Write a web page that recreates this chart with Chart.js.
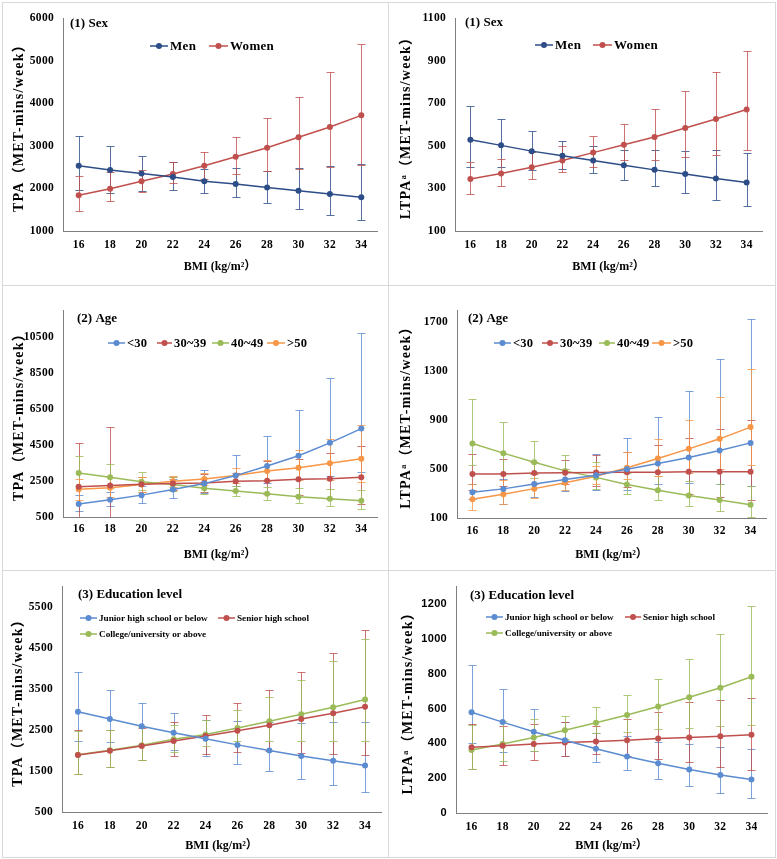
<!DOCTYPE html>
<html><head><meta charset="utf-8">
<script src="https://cdn.jsdelivr.net/npm/chart.js@4.4.0/dist/chart.umd.min.js"></script>
<style>
html,body{margin:0;padding:0;background:#fff}
body{width:777px;height:859px;position:relative;overflow:hidden}
.cell{position:absolute;border:1px solid #d9d9d9;box-sizing:border-box}
canvas{position:absolute}
</style></head><body>
<script>
// ---------- categories ----------
const bmi = ['16','18','20','22','24','26','28','30','32','34'];

// ---------- (1) Sex : TPA ----------
const tpaSexTicks = [1000,2000,3000,4000,5000,6000];
const tpaMen     = [2530,2430,2350,2265,2170,2105,2020,1945,1870,1795];
const tpaMenLo   = [1970,1900,1950,1955,1895,1790,1665,1505,1370,1250];
const tpaMenHi   = [3230,2995,2760,2610,2460,2470,2400,2490,2530,2570];
const tpaWomen   = [1840,1990,2170,2340,2530,2745,2955,3200,3440,3715];
const tpaWomenLo = [1480,1700,1905,2120,2220,2335,2420,2445,2505,2550];
const tpaWomenHi = [2300,2375,2430,2610,2845,3205,3645,4140,4735,5400];

// ---------- (1) Sex : LTPA ----------
const ltpaSexTicks = [100,300,500,700,900,1100];
const ltpaMen     = [528,502,475,453,431,409,387,368,347,328];
const ltpaMenLo   = [400,400,385,390,372,340,312,278,245,218];
const ltpaMenHi   = [689,624,571,524,497,480,478,475,478,465];
const ltpaWomen   = [344,370,399,431,468,505,541,584,626,670];
const ltpaWomenLo = [276,312,344,379,400,435,434,446,459,481];
const ltpaWomenHi = [423,436,470,498,544,604,675,755,846,947];

// ---------- (2) Age : TPA ----------
const tpaAgeTicks = [500,2500,4500,6500,8500,10500];
const tpaU30   = [1220,1455,1715,2025,2355,2800,3330,3900,4620,5410];
const tpaU30Lo = [850,1100,1270,1550,1820,2200,2400,2600,2800,3000];
const tpaU30Hi = [1700,1900,2200,2600,3130,3940,4985,6420,8220,10700];
const tpa3039   = [2175,2245,2320,2355,2395,2485,2520,2595,2630,2705];
const tpa3039Lo = [500,500,1900,2000,1900,1950,1800,1700,1500,1200];
const tpa3039Hi = [4620,5500,2750,2750,2900,2950,3600,3700,4080,4450];
const tpa4049   = [2945,2705,2465,2300,2100,1950,1785,1620,1510,1400];
const tpa4049Lo = [2200,2100,2000,1950,1800,1640,1455,1270,1125,940];
const tpa4049Hi = [3900,3440,2980,2700,2450,2250,2150,2100,2050,2000];
const tpaO50   = [2045,2120,2300,2485,2615,2800,3055,3240,3480,3735];
const tpaO50Lo = [1450,1600,1900,2150,2300,2400,2500,2550,2550,2450];
const tpaO50Hi = [2600,2700,2750,2800,2950,3250,3660,4210,4860,5630];

// ---------- (2) Age : LTPA ----------
const ltpaAgeTicks = [100,500,900,1300,1700];
const ltpaU30   = [310,338,378,414,449,499,545,594,652,714];
const ltpaU30Lo = [253,217,272,321,332,327,380,390,380,360];
const ltpaU30Hi = [380,420,460,500,624,755,922,1138,1400,1727];
const ltpa3039   = [460,460,468,469,471,474,474,477,477,477];
const ltpa3039Lo = [330,360,380,380,360,350,330,300,270,250];
const ltpa3039Hi = [620,580,560,572,613,640,698,755,829,900];
const ltpa4049   = [709,630,556,485,432,373,327,283,247,209];
const ltpa4049Lo = [530,470,430,400,340,300,250,200,160,112];
const ltpa4049Hi = [1069,881,733,611,560,470,440,400,380,360];
const ltpaO50   = [253,294,340,389,441,510,586,665,747,843];
const ltpaO50Lo = [168,217,266,327,376,420,440,470,500,530];
const ltpaO50Hi = [381,414,463,504,523,640,742,900,1086,1315];

// ---------- (3) Education : TPA ----------
const tpaEduTicks = [500,1500,2500,3500,4500,5500];
const tpaJun   = [2950,2770,2595,2435,2290,2140,2005,1870,1755,1635];
const tpaJunLo = [2235,2210,2150,2010,1875,1675,1490,1315,1155,995];
const tpaJunHi = [3910,3485,3155,2915,2755,2730,2700,2680,2690,2710];
const tpaSen   = [1890,1995,2115,2235,2355,2485,2620,2770,2915,3070];
const tpaSenLo = [1435,1595,1780,1860,1915,1955,1995,1950,1915,1890];
const tpaSenHi = [2500,2515,2550,2690,2875,3155,3490,3915,4395,4950];
const tpaCol   = [1900,2010,2130,2275,2395,2550,2715,2890,3060,3250];
const tpaColLo = [1435,1595,1780,1955,2115,2235,2235,2235,2235,2235];
const tpaColHi = [2480,2500,2570,2620,2750,2995,3315,3715,4195,4730];

// ---------- (3) Education : LTPA ----------
const ltpaEduTicks = [0,200,400,600,800,1000,1200];
const ltpaJun   = [578,522,467,418,369,324,286,250,218,192];
const ltpaJunLo = [400,350,355,330,290,245,198,154,113,85];
const ltpaJunHi = [847,710,599,520,462,440,410,395,380,367];
const ltpaSen   = [377,386,396,405,411,418,428,433,441,450];
const ltpaSenLo = [250,275,305,325,337,330,311,292,267,249];
const ltpaSenHi = [510,500,510,520,500,540,580,640,650,660];
const ltpaCol   = [362,396,433,475,518,563,612,665,719,782];
const ltpaColLo = [250,297,358,424,461,467,480,490,499,505];
const ltpaColHi = [508,530,537,559,608,678,772,887,1026,1186];

// ---------- labels ----------
const sexNames = ['Men','Women'];
const ageNames = ['<30','30~39','40~49','>50'];
const eduNames = ['Junior high school or below','Senior high school','College/university or above'];
const tpaTitle = 'TPA（MET-mins/week）';
const ltpaTitle = 'LTPAᵃ（MET-mins/week）';
const bmiTitle = 'BMI (kg/m²）';

// ---------- styling ----------
const SERIF = '"Liberation Serif","DejaVu Serif","Noto Sans CJK SC",serif';
const SANS = '"Liberation Sans","DejaVu Sans",sans-serif';
const NAVY='#2C4D87', RED='#C0504D', BLUE='#5B8BD0', GREEN='#9BBB59', ORANGE='#F79646';

const spacing = {
  id:'spacing',
  beforeDraw(chart){ chart.ctx.letterSpacing = '0.3px'; }
};

const errorBars = {
  id:'errorBars',
  beforeDatasetsDraw(chart){
    const {ctx, chartArea:a} = chart;
    const xs = chart.scales.x, ys = chart.scales.y;
    ctx.save();
    ctx.beginPath(); ctx.rect(a.left, a.top-2, a.right-a.left, a.bottom-a.top+2); ctx.clip();
    chart.data.datasets.forEach(ds=>{
      ctx.strokeStyle = ds.errColor; ctx.lineWidth = 1;
      ds.lo.forEach((lo,j)=>{
        const x = Math.round(xs.getPixelForValue(j))+0.5;
        const y1 = Math.round(ys.getPixelForValue(lo))+0.5;
        const y2 = Math.round(ys.getPixelForValue(ds.hi[j]))+0.5;
        ctx.beginPath();
        ctx.moveTo(x,y1); ctx.lineTo(x,y2);
        ctx.moveTo(x-4,y1); ctx.lineTo(x+4,y1);
        ctx.moveTo(x-4,y2); ctx.lineTo(x+4,y2);
        ctx.stroke();
      });
    });
    ctx.restore();
  }
};

const decor = {
  id:'decor',
  afterDraw(chart, args, o){
    const ctx = chart.ctx;
    ctx.save();
    ctx.textBaseline='middle'; ctx.textAlign='left'; ctx.fillStyle='#000';
    ctx.letterSpacing = '0px';
    ctx.font = 'bold '+o.titleSize+'px '+SERIF;
    ctx.fillText(o.title, o.titleX, o.titleY);
    ctx.letterSpacing = o.legendSpacing;
    ctx.font = 'bold '+o.legendSize+'px '+SERIF;
    o.items.forEach((it,i)=>{
      const ds = chart.data.datasets[i];
      ctx.strokeStyle = ds.borderColor; ctx.lineWidth = 1.5;
      ctx.beginPath(); ctx.moveTo(it[0], it[1]); ctx.lineTo(it[0]+it[2], it[1]); ctx.stroke();
      ctx.fillStyle = ds.borderColor;
      ctx.beginPath(); ctx.arc(it[0]+it[2]/2, it[1], 3, 0, Math.PI*2); ctx.fill();
      ctx.fillStyle = '#000';
      ctx.fillText(ds.label, it[0]+it[2]+2, it[1]+0.5);
    });
    ctx.restore();
  }
};

function ser(label, data, lo, hi, color){ return {label, data, lo, hi, color}; }

const panels = [
 {cell:[2,2,386,283], plot:[63,18,377,231], yMin:1000, yMax:6000, yTicks:tpaSexTicks, yTitle:tpaTitle,
  yTitleX:17, xTitleY:267, xPad:7, yFont:SERIF, title:'(1) Sex', tPos:[70,24], tSize:13, lSize:13, lSp:'0.3px',
  series:[ser(sexNames[0],tpaMen,tpaMenLo,tpaMenHi,NAVY), ser(sexNames[1],tpaWomen,tpaWomenLo,tpaWomenHi,RED)],
  items:[[150,46,18],[209,46,19]]},
 {cell:[389,2,386,283], plot:[455,18,762,231], yMin:100, yMax:1100, yTicks:ltpaSexTicks, yTitle:ltpaTitle,
  yTitleX:17, xTitleY:267, xPad:7, yFont:SERIF, title:'(1) Sex', tPos:[465,23], tSize:13, lSize:13, lSp:'0.3px',
  series:[ser(sexNames[0],ltpaMen,ltpaMenLo,ltpaMenHi,NAVY), ser(sexNames[1],ltpaWomen,ltpaWomenLo,ltpaWomenHi,RED)],
  items:[[535,45,18],[593,45,19]]},
 {cell:[2,286,386,284], plot:[63,310,377,517], yMin:500, yMax:12000, yTicks:tpaAgeTicks, yTitle:tpaTitle,
  yTitleX:17, xTitleY:555, xPad:5, yFont:SERIF, title:'(2) Age', tPos:[77,319], tSize:13, lSize:12.5, lSp:'0.2px',
  series:[ser(ageNames[0],tpaU30,tpaU30Lo,tpaU30Hi,BLUE), ser(ageNames[1],tpa3039,tpa3039Lo,tpa3039Hi,RED),
          ser(ageNames[2],tpa4049,tpa4049Lo,tpa4049Hi,GREEN), ser(ageNames[3],tpaO50,tpaO50Lo,tpaO50Hi,ORANGE)],
  items:[[108,343,17],[157,343,15],[212,343,17],[267,343,18]]},
 {cell:[389,286,386,284], plot:[457,310,766,518], yMin:100, yMax:1800, yTicks:ltpaAgeTicks, yTitle:ltpaTitle,
  yTitleX:17, xTitleY:555, xPad:6, yFont:SERIF, title:'(2) Age', tPos:[468,319], tSize:13, lSize:12.5, lSp:'0.2px',
  series:[ser(ageNames[0],ltpaU30,ltpaU30Lo,ltpaU30Hi,BLUE), ser(ageNames[1],ltpa3039,ltpa3039Lo,ltpa3039Hi,RED),
          ser(ageNames[2],ltpa4049,ltpa4049Lo,ltpa4049Hi,GREEN), ser(ageNames[3],ltpaO50,ltpaO50Lo,ltpaO50Hi,ORANGE)],
  items:[[494,343,17],[542,343,16],[599,343,16],[652,343,19]]},
 {cell:[2,571,386,286], plot:[62,584,381,812], yMin:500, yMax:6000, yTicks:tpaEduTicks, yTitle:tpaTitle,
  yTitleX:16, xTitleY:846, xPad:7, yFont:SERIF, title:'(3) Education level', tPos:[78,595], tSize:13, lSize:9.2, lSp:'0px',
  series:[ser(eduNames[0],tpaJun,tpaJunLo,tpaJunHi,BLUE), ser(eduNames[1],tpaSen,tpaSenLo,tpaSenHi,RED),
          ser(eduNames[2],tpaCol,tpaColLo,tpaColHi,GREEN)],
  items:[[80,618,17],[218,618,17],[80,634,17]]},
 {cell:[389,571,386,286], plot:[456,585,767,813], yMin:0, yMax:1300, yTicks:ltpaEduTicks, yTitle:ltpaTitle,
  yTitleX:19, xTitleY:846, xPad:7, yFont:SANS, title:'(3) Education level', tPos:[470,596], tSize:13, lSize:9.2, lSp:'0px',
  series:[ser(eduNames[0],ltpaJun,ltpaJunLo,ltpaJunHi,BLUE), ser(eduNames[1],ltpaSen,ltpaSenLo,ltpaSenHi,RED),
          ser(eduNames[2],ltpaCol,ltpaColLo,ltpaColHi,GREEN)],
  items:[[486,617,17],[625,617,16],[486,633,17]]}
];

// panel borders
[[2,2,387,284],[388,2,388,284],[2,285,387,286],[388,285,388,286],[2,570,387,288],[388,570,388,288]].forEach(r=>{
  const d=document.createElement('div'); d.className='cell';
  d.style.left=r[0]+'px'; d.style.top=r[1]+'px'; d.style.width=r[2]+'px'; d.style.height=r[3]+'px';
  document.body.appendChild(d);
});

function spacedTitle(s, sp){
  if (s._spaced) return;
  const orig = s.drawTitle;
  s.drawTitle = function(){ const c=this.ctx; c.save(); c.letterSpacing=sp; orig.apply(this, arguments); c.restore(); };
  s._spaced = true;
}

panels.forEach(p=>{
  const [cx,cy,cw,ch] = p.cell, [x1,y1,x2,y2] = p.plot;
  const cv = document.createElement('canvas');
  cv.width=cw; cv.height=ch; cv.style.left=cx+'px'; cv.style.top=cy+'px';
  cv.style.width=cw+'px'; cv.style.height=ch+'px';
  document.body.appendChild(cv);
  const tickFont = {family:SERIF, size:11.5, weight:'bold'};
  const yTitleFont = {family:SERIF, size:14, weight:'bold', lineHeight:1.2};
  const xTitleFont = {family:SERIF, size:12, weight:'bold', lineHeight:1.2};
  new Chart(cv, {
    type:'line',
    data:{ labels:bmi, datasets:p.series.map(s=>({
      label:s.label, data:s.data, lo:s.lo, hi:s.hi,
      borderColor:s.color, backgroundColor:s.color, errColor:s.color+'CC',
      borderWidth:1.5, pointRadius:3, pointHoverRadius:3, pointBorderWidth:0,
      pointBackgroundColor:s.color, tension:0, fill:false
    }))},
    options:{
      responsive:false, animation:false, devicePixelRatio:1,
      layout:{padding:{left:0, top:y1-cy, right:(cx+cw)-x2, bottom:0}},
      plugins:{legend:{display:false}, tooltip:{enabled:false},
        decor:{title:p.title, titleX:p.tPos[0]-cx, titleY:p.tPos[1]-cy, titleSize:p.tSize, legendSize:p.lSize,
               legendSpacing:p.lSp, items:p.items.map(it=>[it[0]-cx, it[1]-cy, it[2]])}},
      scales:{
        x:{type:'category', offset:true,
           grid:{display:false, drawTicks:false}, border:{display:true, color:'#7f7f7f', width:1},
           ticks:{font:tickFont, color:'#000', padding:p.xPad, maxRotation:0},
           title:{display:true, text:bmiTitle, font:xTitleFont, color:'#000',
                  padding:{top:0, bottom:(cy+ch)-p.xTitleY-7.2}},
           afterFit:s=>{ s.height = (cy+ch)-y2; spacedTitle(s,'0px'); }},
        y:{type:'linear', min:p.yMin, max:p.yMax,
           grid:{display:false, drawTicks:false}, border:{display:true, color:'#7f7f7f', width:1},
           ticks:{font:{family:p.yFont, size:p.yFont===SANS?11:11.5, weight:'bold'}, color:'#000', padding:9,
                  callback:v=>String(v)},
           title:{display:true, text:p.yTitle, font:yTitleFont, color:'#000', padding:{top:p.yTitleX-8.4, bottom:0}},
           afterBuildTicks:s=>{ s.ticks = p.yTicks.map(v=>({value:v})); },
           afterFit:s=>{ s.width = x1-cx; spacedTitle(s,'1.2px'); }}
      }
    },
    plugins:[spacing, errorBars, decor]
  });
});
</script>
</body></html>
